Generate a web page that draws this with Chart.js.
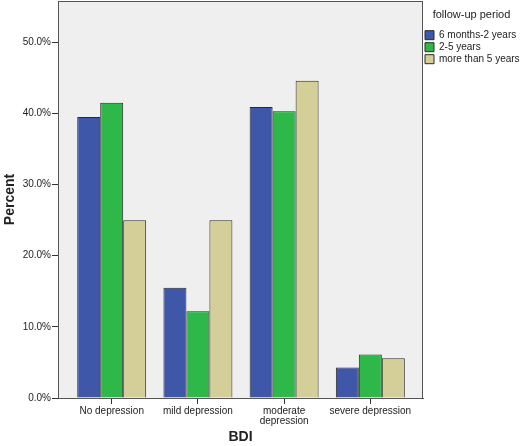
<!DOCTYPE html>
<html lang="en">
<head>
    <meta charset="UTF-8">
    <title>BDI by follow-up period</title>
    <script src="https://cdn.jsdelivr.net/npm/chart.js@4.4.0/dist/chart.umd.min.js"></script>
    <style>
        body { margin: 0; background: #fff; }
        .chart-box { position: relative; width: 520px; height: 446px; }
    </style>
</head>
<body>
    <div class="chart-box">
        <canvas id="bdiChart"></canvas>
    </div>
    <script>
        // data (percent)
        const categories = ['No depression', 'mild depression', ['moderate', 'depression'], 'severe depression'];
        const sixMonthsToTwo = [39.5, 15.5, 40.9, 4.3];
        const twoToFive = [41.5, 12.2, 40.3, 6.1];
        const moreThanFive = [25.0, 25.0, 44.6, 5.6];
        const yTicks = [0, 10, 20, 30, 40, 50];

        const font = 'Arial, "Liberation Sans", sans-serif';
        const toPoints = arr => arr.map((v, i) => ({ x: i, y: v }));

        // grey plot background + frame, like SPSS output
        const plotFrame = {
            id: 'plotFrame',
            beforeDraw(chart) {
                const { ctx, chartArea: a } = chart;
                ctx.save();
                ctx.fillStyle = '#efefef';
                ctx.fillRect(a.left, a.top, a.right - a.left, a.bottom - a.top);
                ctx.restore();
            },
            afterDraw(chart) {
                const { ctx, chartArea: a } = chart;
                ctx.save();
                ctx.strokeStyle = '#555';
                ctx.lineWidth = 1;
                ctx.strokeRect(a.left + 0.5, a.top + 0.5, a.right - a.left - 1, a.bottom - a.top);
                ctx.restore();
            }
        };

        new Chart(document.getElementById('bdiChart'), {
            type: 'bar',
            data: {
                datasets: [{
                    label: '6 months-2 years',
                    data: toPoints(sixMonthsToTwo),
                    backgroundColor: '#3f57a8',
                    borderColor: '#2a2a2a',
                    borderWidth: 1
                }, {
                    label: '2-5 years',
                    data: toPoints(twoToFive),
                    backgroundColor: '#2fb84a',
                    borderColor: '#2a2a2a',
                    borderWidth: 1
                }, {
                    label: 'more than 5 years',
                    data: toPoints(moreThanFive),
                    backgroundColor: '#d4cf98',
                    borderColor: '#2a2a2a',
                    borderWidth: 1
                }]
            },
            options: {
                responsive: true,
                maintainAspectRatio: false,
                animation: false,
                layout: { padding: { top: 1, right: 0, left: 0, bottom: 0 } },
                datasets: { bar: { categoryPercentage: 0.8, barPercentage: 1.0 } },
                scales: {
                    x: {
                        type: 'linear',
                        offset: false,
                        min: -0.623,
                        max: 3.611,
                        afterBuildTicks: s => { s.ticks = categories.map((c, i) => ({ value: i })); },
                        afterFit: s => { s.height = 48; s.paddingLeft = 0; s.paddingRight = 0; },
                        ticks: {
                            callback: v => categories[v],
                            autoSkip: false,
                            font: { family: font, size: 10, lineHeight: 1.0 },
                            color: '#222',
                            padding: 2,
                            maxRotation: 0
                        },
                        grid: { offset: false, drawOnChartArea: false, tickLength: 6, color: '#333' },
                        border: { color: '#555' },
                        title: {
                            display: true,
                            text: 'BDI',
                            font: { family: font, size: 14, weight: 'bold' },
                            color: '#222',
                            padding: { top: 4, bottom: 0 }
                        }
                    },
                    y: {
                        min: 0,
                        max: 55.8,
                        afterBuildTicks: s => { s.ticks = yTicks.map(v => ({ value: v })); },
                        afterFit: s => { s.width = 58; s.paddingTop = 0; s.paddingBottom = 0; },
                        ticks: {
                            callback: v => v.toFixed(1) + '%',
                            font: { family: font, size: 10 },
                            color: '#222',
                            padding: 1
                        },
                        grid: { drawOnChartArea: false, tickLength: 6, color: '#333' },
                        border: { color: '#555' },
                        title: {
                            display: true,
                            text: 'Percent',
                            font: { family: font, size: 14, weight: 'bold' },
                            color: '#222',
                            padding: { top: 2, bottom: 0 }
                        }
                    }
                },
                plugins: {
                    legend: {
                        position: 'right',
                        align: 'start',
                        maxWidth: 97,
                        title: {
                            display: true,
                            text: 'follow-up period',
                            font: { family: font, size: 11 },
                            color: '#222',
                            padding: { top: 8, bottom: 6 }
                        },
                        labels: {
                            boxWidth: 9,
                            boxHeight: 9,
                            padding: 2,
                            font: { family: font, size: 10 },
                            color: '#222'
                        }
                    },
                    tooltip: { enabled: false }
                }
            },
            plugins: [plotFrame]
        });
    </script>
</body>
</html>
